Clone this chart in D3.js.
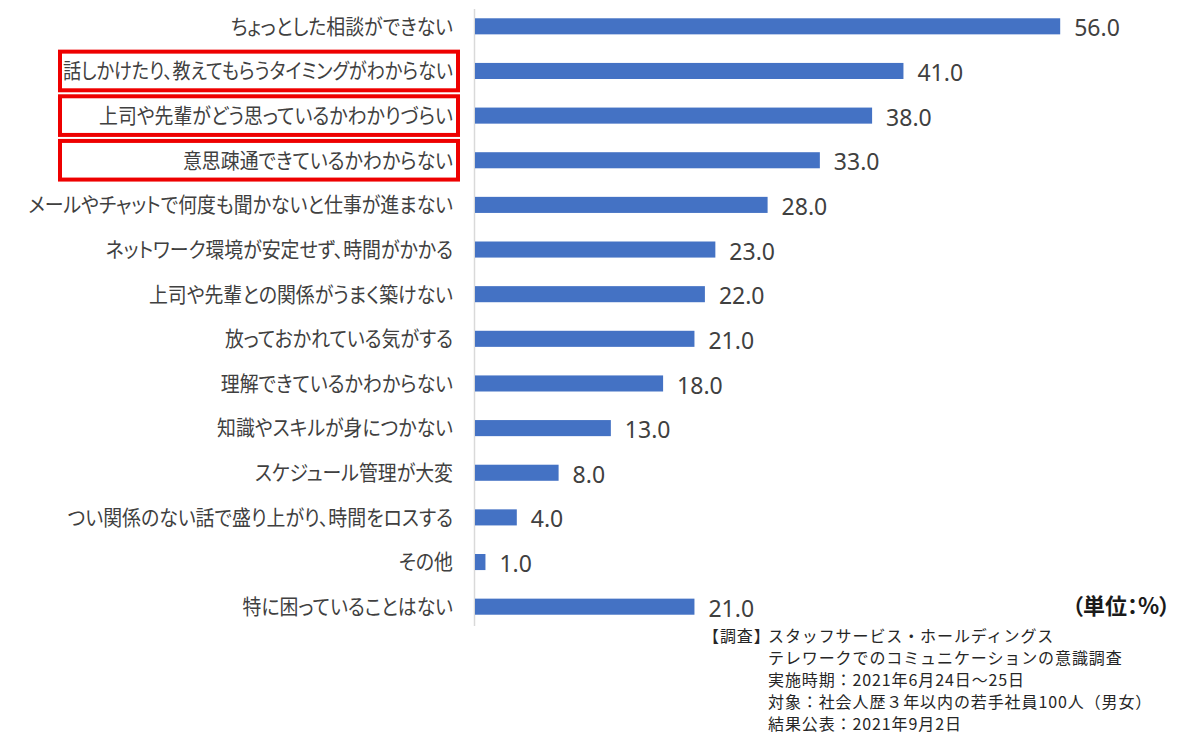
<!DOCTYPE html>
<html>
<head>
<meta charset="utf-8">
<script src="https://cdn.jsdelivr.net/npm/d3@7"></script>
<style>
  html, body { margin: 0; padding: 0; background: #fff; }
  svg text { font-family: "Noto Sans CJK JP", "Noto Sans", sans-serif; }
  .cat, .unit { font-feature-settings: "palt"; }
  .val { font-family: "Noto Sans", "DejaVu Sans", sans-serif; }
</style>
</head>
<body>
<svg id="chart" width="1200" height="747"></svg>
<script>
const categories = [
  "ちょっとした相談ができない",
  "話しかけたり、教えてもらうタイミングがわからない",
  "上司や先輩がどう思っているかわかりづらい",
  "意思疎通できているかわからない",
  "メールやチャットで何度も聞かないと仕事が進まない",
  "ネットワーク環境が安定せず、時間がかかる",
  "上司や先輩との関係がうまく築けない",
  "放っておかれている気がする",
  "理解できているかわからない",
  "知識やスキルが身につかない",
  "スケジュール管理が大変",
  "つい関係のない話で盛り上がり、時間をロスする",
  "その他",
  "特に困っていることはない"
];
const values = [56.0, 41.0, 38.0, 33.0, 28.0, 23.0, 22.0, 21.0, 18.0, 13.0, 8.0, 4.0, 1.0, 21.0];
const highlighted = [
  "話しかけたり、教えてもらうタイミングがわからない",
  "上司や先輩がどう思っているかわかりづらい",
  "意思疎通できているかわからない"
];
const unitLabel = "（単位：%）";
const noteHead = "【調査】";
const noteLines = [
  "スタッフサービス・ホールディングス",
  "テレワークでのコミュニケーションの意識調査",
  "実施時期：2021年6月24日～25日",
  "対象：社会人歴３年以内の若手社員100人（男女）",
  "結果公表：2021年9月2日"
];

const svg = d3.select("#chart");
const x0 = 475;
const x = d3.scaleLinear().domain([0, 60]).range([x0, x0 + 60 * 10.45]);
const y = d3.scaleBand().domain(categories).range([4, 629]).paddingInner(0.64).paddingOuter(0.32);

// axis line
svg.append("line")
  .attr("x1", x0 - 0.5).attr("x2", x0 - 0.5)
  .attr("y1", 9).attr("y2", 626)
  .attr("stroke", "#d9d9d9").attr("stroke-width", 1.5);

// highlight boxes
const step = y.step();
const boxX = 60, boxW = 398;
svg.selectAll("rect.hl").data(highlighted).join("rect")
  .attr("class", "hl")
  .attr("x", boxX)
  .attr("y", d => y(d) + y.bandwidth() / 2 - step / 2 + 3)
  .attr("width", boxW)
  .attr("height", step - 6)
  .attr("fill", "none")
  .attr("stroke", "#ee0000")
  .attr("stroke-width", 4);

// bars
svg.selectAll("rect.bar").data(values).join("rect")
  .attr("class", "bar")
  .attr("x", x(0))
  .attr("y", (d, i) => y(categories[i]))
  .attr("width", d => x(d) - x(0))
  .attr("height", y.bandwidth())
  .attr("fill", "#4472C4");

// category labels (slightly condensed like the original UI font)
const labelRight = 453;
const boxedMax = labelRight - boxX - 3;
svg.selectAll("text.cat").data(categories).join("text")
  .attr("class", "cat")
  .attr("dy", "0.35em")
  .attr("text-anchor", "end")
  .attr("font-size", 21)
  .attr("fill", "#404040")
  .text(d => d)
  .each(function(d) {
    const w = this.getComputedTextLength();
    const sx = highlighted.includes(d) ? Math.min(0.9, boxedMax / w) : 0.9;
    d3.select(this).attr("transform", `translate(${labelRight},${y(d) + y.bandwidth() / 2}) scale(${sx},1)`);
  });

// value labels
svg.selectAll("text.val").data(values).join("text")
  .attr("class", "val")
  .attr("x", d => x(d) + 14)
  .attr("y", (d, i) => y(categories[i]) + y.bandwidth() / 2 + 2)
  .attr("dy", "0.35em")
  .attr("font-size", 23)
  .attr("fill", "#404040")
  .text(d => d.toFixed(1));

// unit
svg.append("text")
  .attr("class", "unit")
  .attr("x", 1072).attr("y", 614)
  .attr("font-size", 22).attr("font-weight", "bold")
  .attr("fill", "#1a1a1a")
  .text(unitLabel);

// note
svg.append("text")
  .attr("x", 703).attr("y", 642)
  .attr("font-size", 16).attr("letter-spacing", 0.9).attr("fill", "#262626")
  .text(noteHead);
svg.append("text")
  .attr("class", "note")
  .attr("font-size", 16).attr("letter-spacing", 0.9).attr("fill", "#262626")
  .selectAll("tspan").data(noteLines).join("tspan")
  .attr("x", 768)
  .attr("y", (d, i) => 642 + i * 22)
  .text(d => d);
</script>
</body>
</html>
